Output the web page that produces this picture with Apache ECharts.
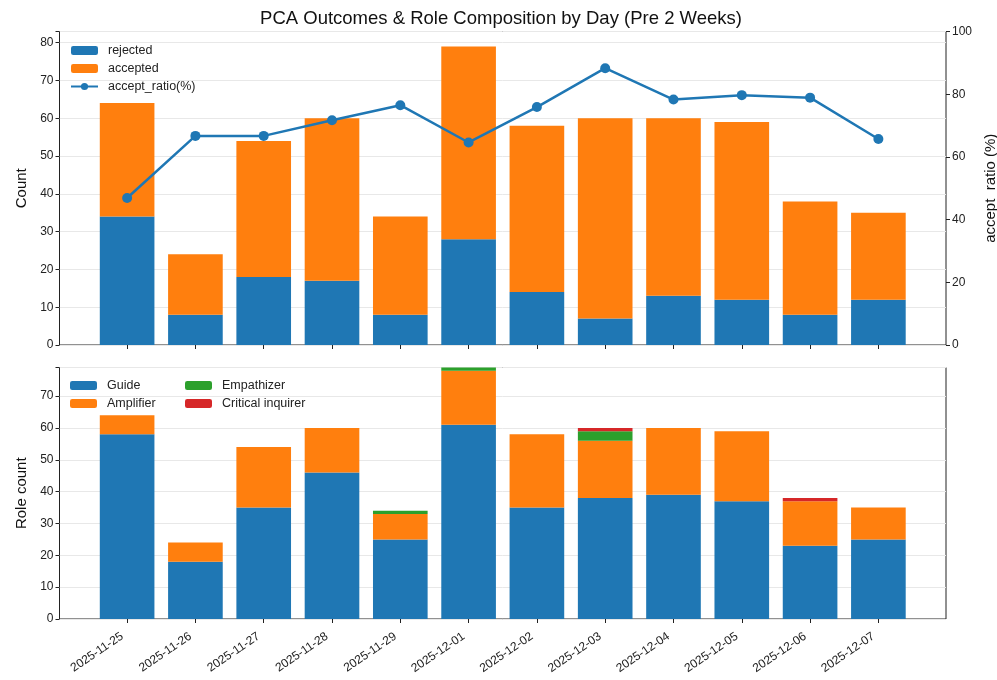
<!DOCTYPE html>
<html><head><meta charset="utf-8">
<script src="https://cdn.jsdelivr.net/npm/echarts@6/dist/echarts.min.js"></script>
<style>html,body{margin:0;padding:0;background:#fff}#c{width:997px;height:680px}</style>
</head><body><div id="c"></div>
<script>
const days = ['2025-11-25','2025-11-26','2025-11-27','2025-11-28','2025-11-29','2025-12-01','2025-12-02','2025-12-03','2025-12-04','2025-12-05','2025-12-06','2025-12-07'];
const rejected = [34,8,18,17,8,28,14,7,13,12,8,12];
const accepted = [30,16,36,43,26,51,44,53,47,47,30,23];
const acceptRatio = [46.9,66.7,66.7,71.7,76.5,64.6,75.9,88.3,78.3,79.7,78.9,65.7];
const guide = [58,18,35,46,25,61,35,38,39,37,23,25];
const amplifier = [6,6,19,14,8,17,23,18,21,22,14,10];
const empathizer = [0,0,0,0,1,1,0,3,0,0,0,0];
const criticalInquirer = [0,0,0,0,0,0,0,1,0,0,1,0];
const countTicks = [0,10,20,30,40,50,60,70,80];
const ratioTicks = [0,20,40,60,80,100];
const roleTicks = [0,10,20,30,40,50,60,70];

const FONT = '"Liberation Sans", Arial, sans-serif';
const BLUE = '#1f77b4', ORANGE = '#ff7f0e', GREEN = '#2ca02c', RED = '#d62728';

const chart = echarts.init(document.getElementById('c'), null, {renderer: 'canvas'});

// outer frame (matplotlib axes) and inner band area (with matplotlib x margins)
const frameL = 59.5, frameR = 946;
const unit = (frameR - frameL) / 12.98;
const off = 0.49 * unit;
const innerL = frameL + off, innerR = frameR - off;
const topT = 31.5, topB = 345, botT = 367.5, botB = 619;

const axisText = {color: '#222', fontSize: 12, fontFamily: FONT};
const tick = {show: true, length: 4, lineStyle: {color: '#222', width: 1}};
const nameStyle = {fontSize: 15, color: '#111', fontFamily: FONT};
const legText = {fontSize: 12.5, color: '#222', fontFamily: FONT, padding: [0, 0, 0, 5]};

function catAxis(gridIndex, showLabels) {
  return {
    type: 'category', gridIndex, data: days, boundaryGap: true,
    axisLine: {show: false, onZero: false},
    axisTick: Object.assign({alignWithLabel: true, interval: 0}, tick),
    splitLine: {show: false},
    axisLabel: showLabels ? Object.assign({interval: 0, rotate: 34, margin: 13, padding: [0, 6, 0, 0]}, axisText) : {show: false}
  };
}
function hiddenX(gridIndex) {
  return {type: 'value', gridIndex, min: 0, max: 1, show: false};
}
function frameY(gridIndex, max, interval) {
  return {
    type: 'value', gridIndex, min: 0, max, interval,
    axisLine: {show: false}, axisTick: {show: false}, axisLabel: {show: false},
    splitLine: {show: true, lineStyle: {color: '#e8e8e8', width: 1}}
  };
}
function gridRect(l, r, t, b, frame) {
  const g = {left: l, right: 997 - r, top: t, bottom: 680 - b, outerBoundsMode: 'none', containLabel: false};
  if (frame) Object.assign(g, {show: true, borderColor: '#222', borderWidth: 1, backgroundColor: 'transparent'});
  return g;
}

const option = {
  animation: false,
  backgroundColor: '#fff',
  textStyle: {fontFamily: FONT},
  title: {
    text: 'PCA Outcomes & Role Composition by Day (Pre 2 Weeks)',
    left: 496, textAlign: 'center', top: 4,
    textStyle: {fontSize: 18.5, fontWeight: 'normal', color: '#111', fontFamily: FONT}
  },
  legend: [
    {
      data: ['rejected', 'accepted', 'accept_ratio(%)'],
      orient: 'vertical', left: 65, top: 39, itemWidth: 27, itemHeight: 9, itemGap: 5,
      textStyle: legText
    },
    {
      data: ['Guide', 'Amplifier'],
      orient: 'vertical', left: 65, top: 374, itemWidth: 27, itemHeight: 9, itemGap: 5,
      textStyle: legText
    },
    {
      data: ['Empathizer', 'Critical inquirer'],
      orient: 'vertical', left: 180, top: 374, itemWidth: 27, itemHeight: 9, itemGap: 5,
      textStyle: legText
    }
  ],
  grid: [
    gridRect(innerL, innerR, topT, topB, false),
    gridRect(innerL, innerR, botT, botB, false),
    gridRect(frameL, frameR, topT, topB, true),
    gridRect(frameL, frameR, botT, botB, true)
  ],
  xAxis: [catAxis(0, false), catAxis(1, true), hiddenX(2), hiddenX(3)],
  yAxis: [
    {
      type: 'value', gridIndex: 0, min: 0, max: 82.95, interval: 10, position: 'left', offset: off,
      name: 'Count', nameLocation: 'middle', nameGap: 26, nameRotate: 90, nameTextStyle: nameStyle,
      axisLine: {show: false, onZero: false}, axisTick: tick,
      axisLabel: Object.assign({margin: 6, formatter: v => countTicks.includes(v) ? String(v) : ''}, axisText),
      splitLine: {show: false}
    },
    {
      type: 'value', gridIndex: 0, min: 0, max: 100, interval: 20, position: 'right', offset: off,
      name: 'accept_ratio (%)', nameLocation: 'middle', nameGap: 28, nameRotate: 90, nameTextStyle: nameStyle,
      axisLine: {show: false, onZero: false}, axisTick: tick,
      axisLabel: Object.assign({margin: 6, formatter: v => ratioTicks.includes(v) ? String(v) : ''}, axisText),
      splitLine: {show: false}
    },
    {
      type: 'value', gridIndex: 1, min: 0, max: 79, interval: 10, position: 'left', offset: off,
      name: 'Role count', nameLocation: 'middle', nameGap: 26, nameRotate: 90, nameTextStyle: nameStyle,
      axisLine: {show: false, onZero: false}, axisTick: tick,
      axisLabel: Object.assign({margin: 6, formatter: v => roleTicks.includes(v) ? String(v) : ''}, axisText),
      splitLine: {show: false}
    },
    frameY(2, 82.95, 10),
    frameY(3, 79, 10)
  ],
  series: [
    {name: 'rejected', type: 'bar', xAxisIndex: 0, yAxisIndex: 0, stack: 'top', barWidth: '80%',
      itemStyle: {color: BLUE}, data: rejected},
    {name: 'accepted', type: 'bar', xAxisIndex: 0, yAxisIndex: 0, stack: 'top', barWidth: '80%',
      itemStyle: {color: ORANGE}, data: accepted},
    {name: 'accept_ratio(%)', type: 'line', xAxisIndex: 0, yAxisIndex: 1, z: 5,
      symbol: 'circle', symbolSize: 10, lineStyle: {color: BLUE, width: 2.5},
      itemStyle: {color: BLUE}, data: acceptRatio},
    {name: 'Guide', type: 'bar', xAxisIndex: 1, yAxisIndex: 2, stack: 'bot', barWidth: '80%',
      itemStyle: {color: BLUE}, data: guide},
    {name: 'Amplifier', type: 'bar', xAxisIndex: 1, yAxisIndex: 2, stack: 'bot', barWidth: '80%',
      itemStyle: {color: ORANGE}, data: amplifier},
    {name: 'Empathizer', type: 'bar', xAxisIndex: 1, yAxisIndex: 2, stack: 'bot', barWidth: '80%',
      itemStyle: {color: GREEN}, data: empathizer},
    {name: 'Critical inquirer', type: 'bar', xAxisIndex: 1, yAxisIndex: 2, stack: 'bot', barWidth: '80%',
      itemStyle: {color: RED}, data: criticalInquirer}
  ]
};
chart.setOption(option);
</script>
</body></html>
